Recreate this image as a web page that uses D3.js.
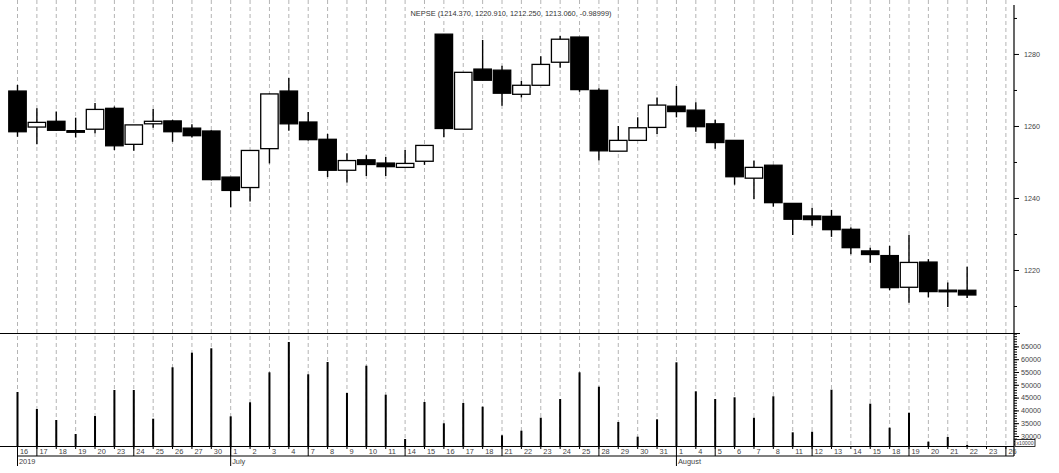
<!DOCTYPE html>
<html>
<head>
<meta charset="utf-8">
<script src="https://cdn.jsdelivr.net/npm/d3@7"></script>
<style>
  html, body { margin: 0; padding: 0; background: #fff; }
  svg { display: block; }
  text { font-family: "Liberation Sans", Arial, sans-serif; }
</style>
</head>
<body>
<svg id="chart" width="1059" height="473"></svg>
<script>
// ---------- DATA ----------
const title = "NEPSE (1214.370, 1220.910, 1212.250, 1213.060, -0.98999)";

const dayLabels = ["16","17","18","19","20","23","24","25","26","27","30",
  "1","2","3","4","7","8","9","10","11","14","15","16","17","18","21","22","23","24","25","28","29","30","31",
  "1","4","5","6","7","8","11","12","13","14","15","18","19","20","21","22","23","26"];
// Monday separators (index positions) and month starts with their labels
const mondayIdx = [1,6,11,15,20,25,30,36,41,46,51];
const monthIdx = [0,11,34];
const monthLabels = ["2019","July","August"];

const opens  = [1269.7,1259.7,1261.3,1258.7,1259.1,1264.9,1254.9,1260.6,1261.4,1259.4,1258.6,
  1245.8,1242.9,1253.7,1269.7,1261.1,1256.3,1247.7,1250.6,1249.7,1248.5,1250.2,1285.5,1259.1,1275.8,1275.5,1268.8,1271.3,1277.7,1284.7,1269.9,1253.0,1256.0,1259.6,
  1265.5,1264.4,1260.6,1256.0,1245.5,1249.1,1238.5,1235.0,1234.9,1231.3,1225.3,1224.0,1215.2,1222.2,1214.4,1214.37];
const highs  = [1271.4,1264.9,1264.0,1262.3,1266.4,1265.4,1260.3,1264.7,1261.7,1260.5,1258.8,
  1245.8,1253.2,1269.0,1273.3,1263.9,1257.8,1252.4,1251.9,1251.4,1253.3,1254.6,1285.5,1274.9,1283.9,1276.7,1272.5,1279.4,1285.0,1284.7,1270.5,1260.0,1262.4,1267.9,
  1271.1,1266.6,1261.7,1256.0,1250.4,1249.1,1238.5,1237.3,1236.7,1231.8,1226.2,1226.7,1229.7,1223.0,1216.5,1220.91];
const lows   = [1257.0,1254.9,1258.6,1256.8,1258.0,1253.3,1253.1,1259.5,1255.6,1256.8,1244.9,
  1237.4,1239.0,1249.6,1258.7,1256.0,1245.8,1244.3,1246.1,1246.1,1248.5,1249.2,1256.9,1259.1,1272.7,1265.6,1267.9,1271.3,1276.2,1269.5,1250.4,1253.0,1256.0,1257.8,
  1262.4,1258.4,1253.7,1243.7,1239.7,1237.6,1229.7,1232.3,1229.2,1224.4,1222.0,1214.4,1210.9,1212.4,1209.7,1212.25];
const closes = [1258.4,1261.0,1258.8,1258.5,1264.6,1254.5,1260.3,1261.3,1258.4,1257.3,1245.1,
  1242.1,1253.2,1268.9,1260.6,1256.2,1247.7,1250.4,1249.3,1248.7,1249.6,1254.6,1259.3,1274.9,1272.7,1269.1,1271.3,1277.1,1284.1,1270.1,1253.1,1256.0,1259.5,1265.8,
  1264.0,1259.8,1255.4,1245.9,1248.5,1238.7,1234.1,1234.0,1231.2,1226.2,1224.3,1215.1,1222.1,1214.0,1214.3,1213.06];
const volumes = [47190,40550,36250,30780,37800,47970,47970,36760,56840,62540,64260,
  37680,43160,54880,66720,54100,58900,46800,57460,46130,28830,43280,34960,42890,41450,30270,32070,37150,44450,54880,49260,35470,29730,36520,
  58790,47460,44450,45120,37150,45510,31440,31680,48090,0,42640,33240,39100,27780,29610,26480];

const priceMajorTicks = [1220,1240,1260,1280];
const priceMinorTicks = [1210,1230,1250,1270,1290];
const volMajorTicks = [30000,35000,40000,45000,50000,55000,60000,65000];

// ---------- LAYOUT ----------
const svg = d3.select("#chart");
const axisX = 1014;
const priceTop = 5, priceBottom = 333;
const volTop = 333, volBottom = 446;
const row1Bottom = 456, row2Bottom = 466;

const x = d3.scalePoint().domain(d3.range(dayLabels.length)).range([17, 1005.4]);
const step = x.step();
const bodyW = step * 0.9;

const y = d3.scaleLinear().domain([1202.5, 1293.6]).range([priceBottom, priceTop]);
const yv = d3.scaleLinear().domain([26094, 70234]).range([volBottom, volTop]).clamp(true);

// gridlines
svg.append("g").selectAll("line").data(d3.range(dayLabels.length)).join("line")
  .attr("x1", i => x(i) + 0.5).attr("x2", i => x(i) + 0.5)
  .attr("y1", 0).attr("y2", volBottom)
  .attr("stroke", "#b4b4b4").attr("stroke-width", 1).attr("stroke-dasharray", "4,3");

// title with white background
const tt = svg.append("text").attr("x", 511).attr("y", 15.5).attr("text-anchor", "middle")
  .attr("font-size", 7.4).attr("fill", "#333").text(title);
const bb = tt.node().getBBox();
svg.insert("rect", "text").attr("x", bb.x - 2).attr("y", bb.y).attr("width", bb.width + 4)
  .attr("height", bb.height).attr("fill", "#fff");

// candles
const idx = d3.range(opens.length);
const cg = svg.append("g");
cg.selectAll("line.wick").data(idx).join("line").attr("class", "wick")
  .attr("x1", i => x(i) + 0.5).attr("x2", i => x(i) + 0.5)
  .attr("y1", i => y(highs[i])).attr("y2", i => y(lows[i]))
  .attr("stroke", "#000").attr("stroke-width", 1.4);
cg.selectAll("rect.body").data(idx).join("rect").attr("class", "body")
  .attr("x", i => x(i) + 0.5 - bodyW / 2)
  .attr("width", bodyW)
  .attr("y", i => y(Math.max(opens[i], closes[i])))
  .attr("height", i => Math.max(1.6, Math.abs(y(opens[i]) - y(closes[i]))))
  .attr("fill", i => closes[i] >= opens[i] ? "#fff" : "#000")
  .attr("stroke", "#000").attr("stroke-width", 1.3);

// volume bars
svg.append("g").selectAll("rect").data(idx).join("rect")
  .attr("x", i => x(i) - 0.5).attr("width", 2)
  .attr("y", i => yv(volumes[i]))
  .attr("height", i => volBottom - yv(volumes[i]))
  .attr("fill", "#000");

// panel frame lines
const frame = svg.append("g").attr("stroke", "#000").attr("stroke-width", 1.2);
frame.append("line").attr("x1", 0).attr("x2", axisX + 6).attr("y1", priceBottom + 0.5).attr("y2", priceBottom + 0.5);
frame.append("line").attr("x1", 0).attr("x2", axisX).attr("y1", volBottom + 0.5).attr("y2", volBottom + 0.5);
frame.append("line").attr("x1", 17).attr("x2", axisX).attr("y1", row1Bottom).attr("y2", row1Bottom);
frame.append("line").attr("x1", axisX).attr("x2", axisX).attr("y1", priceTop).attr("y2", row1Bottom);

// price axis
const pAxis = d3.axisRight(y).tickValues(priceMajorTicks).tickSize(5).tickPadding(5).tickFormat(d3.format("d"));
const pg = svg.append("g").attr("transform", `translate(${axisX},0)`).call(pAxis);
const pmAxis = d3.axisRight(y).tickValues(priceMinorTicks).tickSize(3).tickFormat("");
const pmg = svg.append("g").attr("transform", `translate(${axisX},0)`).call(pmAxis);

// volume axis
const vAxis = d3.axisRight(yv).tickValues(volMajorTicks).tickSize(5).tickPadding(2).tickFormat(d3.format("d"));
const vg = svg.append("g").attr("transform", `translate(${axisX},0)`).call(vAxis);
const vmAxis = d3.axisRight(yv).tickValues(d3.range(27000, 70001, 1000)).tickSize(3).tickFormat("");
const vmg = svg.append("g").attr("transform", `translate(${axisX},0)`).call(vmAxis);

[pg, pmg, vg, vmg].forEach(g => {
  g.select(".domain").remove();
  g.selectAll(".tick line").attr("stroke", "#000").attr("stroke-width", 1);
  g.selectAll(".tick text").attr("fill", "#444").attr("font-size", 7.2)
    .attr("font-family", "'Liberation Sans', Arial, sans-serif");
});

// x10000 box
const xb = svg.append("g");
xb.append("rect").attr("x", axisX + 1).attr("y", 439.5).attr("width", 20).attr("height", 7)
  .attr("fill", "#fff").attr("stroke", "#000").attr("stroke-width", 0.8);
xb.append("text").attr("x", axisX + 2.5).attr("y", 445).attr("font-size", 5.2).attr("fill", "#444").text("x10000");

// date axis
const dg = svg.append("g");
dg.selectAll("line.dt").data(d3.range(dayLabels.length)).join("line").attr("class", "dt")
  .attr("x1", i => x(i) + 0.5).attr("x2", i => x(i) + 0.5)
  .attr("y1", volBottom).attr("y2", volBottom + 3)
  .attr("stroke", "#000").attr("stroke-width", 1);
dg.selectAll("line.mon").data(mondayIdx).join("line").attr("class", "mon")
  .attr("x1", i => x(i) + 0.5).attr("x2", i => x(i) + 0.5)
  .attr("y1", volBottom).attr("y2", row1Bottom)
  .attr("stroke", "#000").attr("stroke-width", 1);
dg.selectAll("line.mth").data(monthIdx).join("line").attr("class", "mth")
  .attr("x1", i => x(i) + 0.5).attr("x2", i => x(i) + 0.5)
  .attr("y1", volBottom).attr("y2", row2Bottom)
  .attr("stroke", "#000").attr("stroke-width", 1);
dg.selectAll("text.day").data(d3.range(dayLabels.length)).join("text").attr("class", "day")
  .attr("x", i => x(i) + 3).attr("y", 454)
  .attr("font-size", 7.4).attr("fill", "#444").text(i => dayLabels[i]);
dg.selectAll("text.month").data(monthIdx).join("text").attr("class", "month")
  .attr("x", i => x(i) + 2).attr("y", 463.5)
  .attr("font-size", 7.4).attr("fill", "#444").text((d, k) => monthLabels[k]);
</script>
</body>
</html>
